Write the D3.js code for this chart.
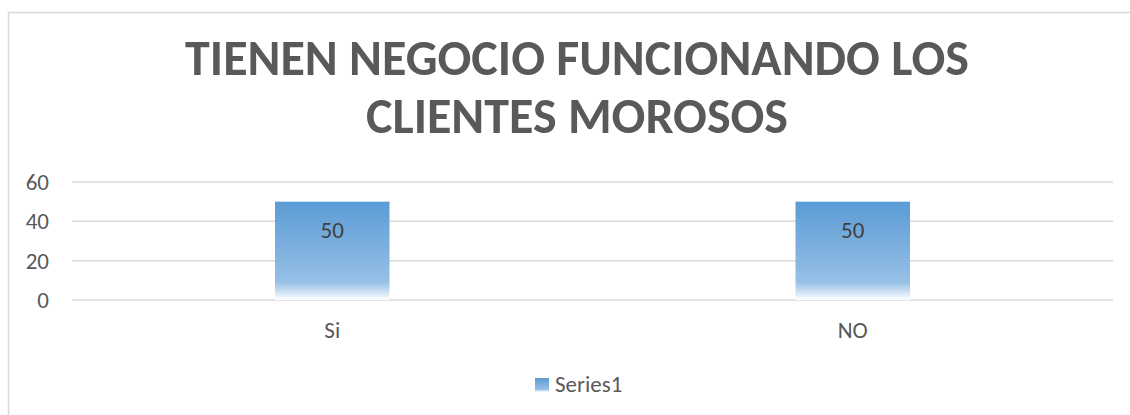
<!DOCTYPE html>
<html>
<head>
<meta charset="utf-8">
<script src="https://cdn.jsdelivr.net/npm/d3@7"></script>
<style>
  body { margin: 0; background: #fff; }
  text { font-family: Carlito, "Open Sans", "Noto Sans", sans-serif; }
</style>
</head>
<body>
<div id="chart-area"></div>
<script>
const categories = ['Si', 'NO'];
const values = [50, 50];
const yTicks = [0, 20, 40, 60];
const seriesName = 'Series1';
const titleLines = ['TIENEN NEGOCIO FUNCIONANDO LOS', 'CLIENTES MOROSOS'];

const W = 1130, H = 415;
const margin = {left: 72, right: 17, top: 182, bottom: 115};
const width = W - margin.left - margin.right,
    height = H - margin.top - margin.bottom;

const svg = d3.select('#chart-area')
    .append('svg')
    .attr('width', W)
    .attr('height', H);

// chart frame
svg.append('rect')
    .attr('x', 8.5).attr('y', 12.5)
    .attr('width', W + 10).attr('height', H + 10)
    .attr('fill', 'none')
    .attr('stroke', '#d9d9d9')
    .attr('stroke-width', 1.5);

const defs = svg.append('defs');
const grad = defs.append('linearGradient')
    .attr('id', 'barGrad')
    .attr('x1', 0).attr('y1', 0).attr('x2', 0).attr('y2', 1);
grad.append('stop').attr('offset', '0%').attr('stop-color', '#5b9bd5');
grad.append('stop').attr('offset', '82%').attr('stop-color', '#97c0e6');
grad.append('stop').attr('offset', '100%').attr('stop-color', '#ffffff');

const title = svg.append('text')
    .attr('x', 577)
    .attr('text-anchor', 'middle')
    .attr('font-size', '50px')
    .attr('font-weight', 'bold')
    .attr('fill', '#595959');
titleLines.forEach((line, i) => {
    title.append('tspan')
        .attr('x', 577)
        .attr('y', 75 + i * 58)
        .text(line);
});

const g = svg.append('g')
    .attr('transform', 'translate(' + margin.left + ', ' + margin.top + ')');

const xScale = d3.scaleBand()
    .domain(categories)
    .range([0, width])
    .paddingInner(0.78)
    .paddingOuter(0.39);

const yScale = d3.scaleLinear()
    .domain([0, 60])
    .range([height, 0]);

// gridlines
g.append('g')
    .selectAll('line')
    .data(yTicks)
    .enter().append('line')
    .attr('x1', 0).attr('x2', width)
    .attr('y1', d => yScale(d)).attr('y2', d => yScale(d))
    .attr('stroke', '#d9d9d9')
    .attr('stroke-width', 1.5);

const yAxisCall = d3.axisLeft(yScale).tickValues(yTicks).tickSize(0).tickPadding(23);
const yAxis = g.append('g').call(yAxisCall);
yAxis.select('.domain').remove();
yAxis.selectAll('text')
    .attr('font-size', '23px')
    .attr('fill', '#595959')
    .style('font-family', 'Carlito, "Open Sans", sans-serif');

const xAxisCall = d3.axisBottom(xScale).tickSize(0);
const xAxis = g.append('g')
    .attr('transform', 'translate(0, ' + height + ')')
    .call(xAxisCall);
xAxis.select('.domain').remove();
xAxis.selectAll('text')
    .attr('y', 38)
    .attr('dy', 0)
    .attr('font-size', '23px')
    .attr('fill', '#595959')
    .style('font-family', 'Carlito, "Open Sans", sans-serif');

g.selectAll('rect.bar')
    .data(values)
    .enter().append('rect')
    .attr('class', 'bar')
    .attr('x', (d, i) => xScale(categories[i]))
    .attr('y', d => yScale(d))
    .attr('width', xScale.bandwidth())
    .attr('height', d => height - yScale(d))
    .attr('fill', 'url(#barGrad)');

g.selectAll('text.lbl')
    .data(values)
    .enter().append('text')
    .attr('class', 'lbl')
    .attr('x', (d, i) => xScale(categories[i]) + xScale.bandwidth() / 2)
    .attr('y', d => yScale(d) + 36)
    .attr('text-anchor', 'middle')
    .attr('font-size', '23px')
    .attr('fill', '#404040')
    .text(d => d);

// legend
const legend = svg.append('g').attr('transform', 'translate(535, 378)');
legend.append('rect')
    .attr('width', 14).attr('height', 14)
    .attr('fill', 'url(#barGrad)');
legend.append('text')
    .attr('x', 20).attr('y', 14)
    .attr('font-size', '23px')
    .attr('fill', '#595959')
    .text(seriesName);
</script>
</body>
</html>
